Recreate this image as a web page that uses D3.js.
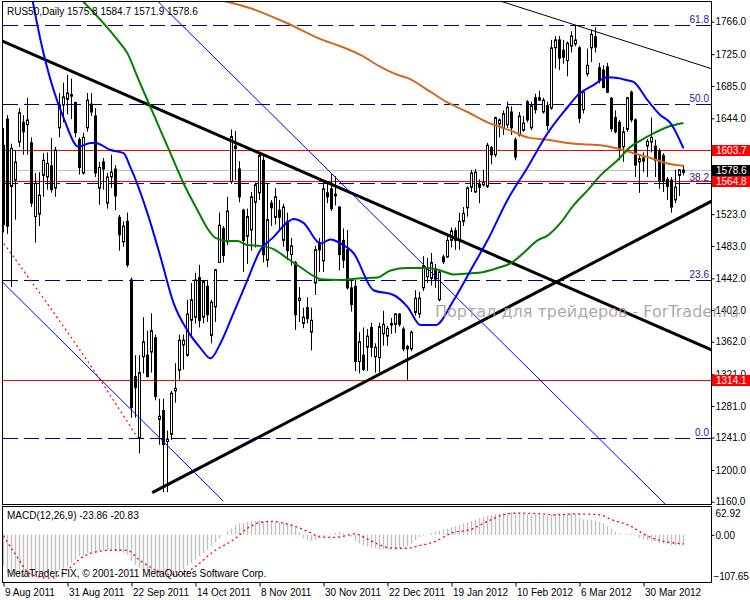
<!DOCTYPE html>
<html>
<head>
<meta charset="utf-8">
<script src="https://cdn.jsdelivr.net/npm/d3@7"></script>
<style>
  body { margin: 0; background: #fff; }
  svg { display: block; }
  text { font-family: "Liberation Sans", Arial, sans-serif; font-size: 10px; }
</style>
</head>
<body>
<svg id="chart" width="750" height="600"></svg>
<script>
// ---- data ----
const title = 'RUS50,Daily  1575.8 1584.7 1571.9 1578.6'
const macdTitle = 'MACD(12,26,9) -23.86 -20.83'
const copyright = 'MetaTrader FIX, \u00a9 2001-2011 MetaQuotes Software Corp.'
const watermark = 'Портал для трейдеров - ForTrader.ru'

const dateLabels = ['9 Aug 2011', '31 Aug 2011', '22 Sep 2011', '14 Oct 2011', '8 Nov 2011', '30 Nov 2011',
    '22 Dec 2011', '19 Jan 2012', '10 Feb 2012', '6 Mar 2012', '30 Mar 2012']
const dateBars = [0, 16, 32, 48, 64, 80, 96, 112, 128, 144, 160]

const priceTicks = [1766.0, 1725.0, 1685.0, 1644.0, 1523.0, 1483.0, 1442.0, 1402.0, 1362.0, 1321.0,
    1281.0, 1241.0, 1200.0, 1160.0]
const macdTicks = [62.92, 0.00, -107.65]

// open, high, low, close per daily bar
const ohlc = [
    [1610,1632,1500,1510],[1643,1648,1498,1508],[1558,1612,1431,1606],[1566,1604,1516,1589],[1614,1657,1608,1651],
    [1639,1648,1598,1627],[1636,1670,1598,1642],[1613,1620,1532,1537],[1520,1575,1487,1562],[1523,1576,1508,1547],
    [1572,1600,1545,1591],[1570,1601,1554,1587],[1584,1619,1550,1554],[1556,1608,1545,1604],[1632,1676,1620,1661],
    [1661,1689,1639,1671],[1668,1699,1649,1676],[1672,1694,1643,1674],[1664,1665,1620,1626],[1617,1620,1573,1582],
    [1575,1626,1573,1620],[1632,1676,1627,1667],[1662,1676,1647,1652],[1647,1657,1570,1575],[1556,1589,1535,1582],
    [1589,1594,1554,1580],[1537,1575,1530,1570],[1570,1598,1556,1576],[1580,1585,1528,1546],[1519,1522,1477,1497],
    [1488,1514,1482,1508],[1514,1525,1456,1459],[1440,1443,1266,1279],[1318,1345,1266,1304],[1241,1345,1221,1323],
    [1343,1393,1322,1362],[1345,1376,1317,1318],[1349,1398,1323,1376],[1367,1371,1288,1293],[1264,1290,1232,1268],
    [1275,1290,1172,1232],[1236,1250,1172,1239],[1245,1300,1238,1297],[1300,1335,1285,1303],[1326,1371,1314,1364],
    [1358,1371,1327,1364],[1345,1415,1343,1397],[1389,1436,1367,1415],[1393,1449,1385,1440],[1443,1459,1380,1389],
    [1393,1440,1385,1438],[1432,1440,1387,1396],[1370,1415,1360,1412],[1406,1453,1387,1453],[1462,1525,1462,1509],
    [1505,1508,1462,1471],[1488,1545,1484,1527],[1564,1630,1561,1621],[1609,1628,1566,1606],[1580,1590,1538,1545],
    [1528,1530,1450,1490],[1495,1530,1460,1520],[1503,1551,1477,1545],[1538,1563,1481,1560],[1550,1600,1541,1597],
    [1591,1596,1462,1472],[1465,1562,1456,1516],[1537,1541,1508,1531],[1519,1556,1510,1545],[1528,1541,1503,1519],
    [1490,1536,1482,1532],[1514,1525,1465,1477],[1472,1493,1458,1483],[1462,1464,1377,1396],[1414,1431,1387,1417],
    [1385,1405,1379,1393],[1405,1418,1385,1391],[1374,1405,1351,1389],[1436,1483,1421,1478],[1487,1493,1450,1478],
    [1464,1565,1450,1555],[1550,1562,1537,1545],[1555,1574,1527,1530],[1546,1571,1534,1548],[1532,1533,1452,1472],
    [1490,1505,1455,1465],[1478,1503,1428,1430],[1430,1440,1400,1409],[1432,1440,1325,1337],[1337,1374,1322,1362],
    [1345,1380,1325,1327],[1355,1378,1325,1369],[1380,1386,1343,1355],[1343,1360,1323,1355],[1342,1386,1323,1381],
    [1372,1401,1357,1384],[1369,1382,1357,1379],[1383,1392,1372,1385],[1384,1398,1373,1397],[1397,1398,1381,1384],
    [1378,1381,1350,1353],[1356,1358,1314,1353],[1353,1376,1350,1374],[1399,1427,1395,1417],[1397,1425,1392,1417],
    [1430,1470,1426,1458],[1444,1468,1436,1454],[1442,1474,1433,1462],[1454,1460,1430,1441],[1415,1453,1413,1450],
    [1469,1472,1460,1463],[1469,1496,1468,1490],[1490,1506,1481,1502],[1502,1506,1478,1490],[1490,1525,1478,1514],
    [1514,1532,1508,1524],[1531,1558,1520,1556],[1557,1579,1551,1575],[1551,1580,1550,1576],[1561,1567,1537,1557],
    [1560,1579,1558,1563],[1558,1613,1556,1610],[1607,1609,1586,1598],[1598,1646,1595,1645],[1637,1644,1620,1642],
    [1632,1654,1623,1650],[1636,1665,1632,1658],[1652,1659,1623,1632],[1617,1620,1591,1595],[1623,1652,1621,1647],
    [1629,1647,1627,1638],[1665,1667,1639,1642],[1632,1665,1629,1660],[1670,1675,1650,1655],[1670,1679,1666,1667],
    [1652,1670,1650,1667],[1660,1665,1629,1635],[1657,1743,1655,1733],[1733,1748,1707,1743],[1743,1748,1705,1720],
    [1730,1743,1713,1721],[1717,1741,1697,1739],[1735,1754,1727,1748],[1738,1762,1735,1743],[1733,1735,1638,1644],
    [1655,1680,1650,1677],[1700,1732,1697,1711],[1733,1756,1715,1750],[1747,1759,1727,1734],[1708,1714,1688,1692],
    [1705,1711,1682,1683],[1709,1714,1676,1677],[1669,1671,1627,1631],[1645,1654,1625,1627],[1639,1642,1591,1605],
    [1608,1633,1589,1627],[1630,1671,1627,1670],[1677,1679,1639,1642],[1642,1644,1570,1585],[1589,1598,1550,1593],
    [1594,1601,1576,1590],[1609,1618,1570,1615],[1614,1645,1601,1620],[1609,1617,1570,1591],[1603,1606,1555,1565],
    [1597,1600,1551,1565],[1567,1570,1541,1558],[1566,1570,1525,1532],[1541,1579,1537,1557],[1572,1580,1546,1579],
    [1575.8,1584.7,1571.9,1578.6]
]

// moving averages, [bar, price] read at points along each curve
const maBlue = [[7,1800],[9.25,1743],[12.5,1680],[15,1645],[18.75,1608],[21.75,1613],[23,1613],[26.75,1604],
    [30,1600],[31.75,1582],[36,1524],[39.25,1469],[42.5,1411],[46,1376],[49.25,1354],[51.75,1341],[54.25,1360],
    [57.5,1398],[61,1440],[64.25,1478],[67.5,1494],[71,1513],[72.5,1517],[75,1512],[79.25,1486],[81.75,1491],
    [84.25,1486],[87.5,1474],[92.5,1427],[97.5,1421],[101,1406],[104.25,1383],[108,1383],[112.5,1414],
    [116.75,1452],[121,1490],[126,1541],[131,1582],[136,1625],[141,1658],[143.5,1673],[147.5,1686],[151,1696],
    [153.5,1695],[156,1692],[157.5,1690],[161,1667],[164.25,1648],[166.75,1638],[170,1606]]
const maGreen = [[19.25,1795],[28.5,1743],[31,1726],[33.5,1696],[36.75,1658],[40,1620],[42.5,1591],[45,1562],
    [48.5,1528],[51,1505],[53,1493],[56,1489],[58.5,1489],[61,1484],[64.25,1483],[67.5,1479],[71,1467],
    [74.25,1456],[77.5,1445],[79.25,1441],[84.25,1440],[89.25,1442],[93.5,1443],[96.75,1452],[101,1455],
    [106,1455],[109.25,1452],[112.5,1447],[116,1448],[120,1450],[123.5,1455],[126.75,1461],[130,1474],
    [133.5,1490],[136,1496],[139.25,1512],[142.5,1534],[146,1553],[149.25,1572],[153.5,1591],[156.75,1608],
    [159.25,1616],[162.5,1625],[166,1633],[170,1638]]
const maOrange = [[50,1797],[54.25,1793],[61.75,1783],[70.5,1765],[79.75,1743],[84.25,1735],[89.25,1724],
    [94.25,1709],[98.5,1699],[101,1695],[106,1680],[111,1664],[116,1652],[121,1639],[124.25,1633],[127.5,1627],
    [131,1620],[136,1617],[141,1613],[146,1611],[149.25,1610],[153.5,1606],[157.5,1600],[161.75,1594],
    [166,1587],[170,1584]]

// drawn objects: [bar, price] end points
const thickTrends = [[[-0.875,1742.7],[177,1351.8]], [[37.18,1171.5],[177,1539.4]]]
const thinBlackTrends = [[[110,1815],[177,1706.7]]]
const thinBlueTrends = [[[38.25,1793.3],[166.25,1152.9]], [[-2,1446],[55,1160.6]]]
const redDotted = [[0.075,1486],[24.25,1313],[33.5,1241]]

const fibPrices = [1241, 1440, 1563, 1662, 1762]
const fibLabels = ['0.0', '23.6', '38.2', '50.0', '61.8']
const redLevels = [1603.7, 1564.8, 1314.1]
const bidPrice = 1578.6

// MACD main (histogram) per bar and signal line points
const macdHist = [
    -70,-88,-91,-93,-95,-96,-95,-94,-93,-92,
    -91,-90,-88,-85,-82,-78,-72,-65,-58,-50,
    -46,-42,-40,-38,-36,-36,-36,-37,-38,-40,
    -42,-46,-60,-70,-76,-82,-85,-88,-90,-92,
    -92,-91,-90,-88,-85,-80,-72,-65,-58,-50,
    -42,-35,-27,-18,-8,0,8,15,22,27,
    28,30,31,32,33,31,30,31,30,29,
    28,27,26,16,6,-8,-12,-14,-12,-6,
    -3,-1,2,5,7,4,0,-4,-15,-20,
    -24,-27,-30,-32,-33,-34,-33,-32,-31,-30,
    -28,-26,-22,-12,-5,-2,1,4,7,10,
    12,14,17,20,23,26,29,32,35,38,
    40,43,45,48,49,50,52,52,51,50,
    49,48,47,47,46,46,45,47,49,50,
    50,49,48,47,40,36,35,35,33,30,
    27,20,14,8,3,1,2,3,-2,-8,
    -10,-12,-13,-15,-18,-20,-22,-24,-25,-24,
    -23.86]
const macdSignal = [[0,-2],[3,-45],[7,-92],[12,-100],[16,-80],[20,-50],[24,-38],[28,-35],[31,-36],[34,-58],
    [38,-81],[41,-92],[44,-92],[48,-73],[52,-42],[58,-8],[61,15],[64,28],[67,31],[70,27],[73,19],[77,4],
    [79,-5],[83,-6],[88,2],[91,-10],[94,-23],[97,-31],[101,-31],[104,-25],[108,-15],[112,4],[117,13],
    [121,31],[125,46],[128,50],[135,48],[138,46],[143,48],[149,46],[152,35],[157,19],[160,2],[163,-10],
    [167,-18],[170,-20.83]]

// ---- layout ----
const svg = d3.select('#chart')
const frame = {left: 2.5, right: 711.5, top: 1.5, bottom: 504.5}
const sub = {top: 506.5, bottom: 582.5}

const x = d3.scaleLinear().domain([0, 170]).range([3.5, 683.5])
const y = d3.scaleLinear().domain([1156.5, 1791.5]).range([frame.bottom, frame.top])
const ym = d3.scaleLinear().domain([-107.65, 62.92]).range([581.5, 507.5])

const defs = svg.append('defs')
defs.append('clipPath').attr('id', 'clipMain').append('rect')
    .attr('x', 3).attr('y', 2).attr('width', 708).attr('height', 502)
defs.append('clipPath').attr('id', 'clipSub').append('rect')
    .attr('x', 3).attr('y', 507).attr('width', 708).attr('height', 75)

const gMain = svg.append('g').attr('clip-path', 'url(#clipMain)')
const gSub = svg.append('g').attr('clip-path', 'url(#clipSub)')

// horizontal levels
gMain.selectAll('line.fib').data(fibPrices).enter().append('line')
    .attr('x1', 3).attr('x2', 711)
    .attr('y1', d => Math.round(y(d)) + 0.5).attr('y2', d => Math.round(y(d)) + 0.5)
    .attr('stroke', '#000080').attr('stroke-dasharray', '15,6')

gMain.selectAll('line.red').data(redLevels).enter().append('line')
    .attr('x1', 3).attr('x2', 711)
    .attr('y1', d => Math.round(y(d)) + 0.5).attr('y2', d => Math.round(y(d)) + 0.5)
    .attr('stroke', '#ff0000')

gMain.append('line')
    .attr('x1', 3).attr('x2', 711)
    .attr('y1', Math.round(y(bidPrice)) + 0.5).attr('y2', Math.round(y(bidPrice)) + 0.5)
    .attr('stroke', '#c0c0c0')

gMain.selectAll('text.fib').data(fibPrices).enter().append('text')
    .attr('x', 709).attr('y', d => Math.round(y(d)) - 2)
    .attr('text-anchor', 'end')
    .attr('fill', '#1a1a9a')
    .text((d, i) => fibLabels[i])

// candles
const candle = gMain.selectAll('g.candle').data(ohlc).enter().append('g')
candle.append('line')
    .attr('x1', (d, i) => x(i)).attr('x2', (d, i) => x(i))
    .attr('y1', d => y(d[1])).attr('y2', d => y(d[2]))
    .attr('stroke', '#000')
candle.append('rect')
    .attr('x', (d, i) => x(i) - 1).attr('width', 2)
    .attr('y', d => y(Math.max(d[0], d[3])))
    .attr('height', d => Math.max(0.5, Math.abs(y(d[0]) - y(d[3]))))
    .attr('fill', d => d[3] >= d[0] ? '#fff' : '#000')
    .attr('stroke', '#000')

// trend lines
const seg = d3.line().x(d => x(d[0])).y(d => y(d[1]))
gMain.selectAll('path.thick').data(thickTrends).enter().append('path')
    .attr('d', seg).attr('stroke', '#000').attr('stroke-width', 3).attr('fill', 'none')
gMain.selectAll('path.thinb').data(thinBlackTrends).enter().append('path')
    .attr('d', seg).attr('stroke', '#000').attr('stroke-width', 1).attr('fill', 'none')
gMain.selectAll('path.blue').data(thinBlueTrends).enter().append('path')
    .attr('d', seg).attr('stroke', '#0000ff').attr('stroke-width', 1).attr('fill', 'none')
gMain.append('path').datum(redDotted)
    .attr('d', d3.line().x(d => x(d[0])).y(d => y(d[1])).curve(d3.curveMonotoneX))
    .attr('stroke', '#ff0000').attr('stroke-width', 1.2).attr('stroke-dasharray', '2,3').attr('fill', 'none')

// moving averages
const maLine = d3.line().x(d => x(d[0])).y(d => y(d[1])).curve(d3.curveMonotoneX)
const mas = [[maOrange, '#d2691e'], [maGreen, '#008000'], [maBlue, '#0000ff']]
mas.forEach(m => {
    gMain.append('path').datum(m[0])
        .attr('d', maLine).attr('stroke', m[1]).attr('stroke-width', 2).attr('fill', 'none')
})

// MACD panel
gSub.selectAll('line.hist').data(macdHist).enter().append('line')
    .attr('x1', (d, i) => x(i)).attr('x2', (d, i) => x(i))
    .attr('y1', ym(0)).attr('y2', d => ym(d))
    .attr('stroke', '#c0c0c0').attr('stroke-width', 1.4)
gSub.append('path').datum(macdSignal)
    .attr('d', d3.line().x(d => x(d[0])).y(d => ym(d[1])).curve(d3.curveMonotoneX))
    .attr('stroke', '#ff0000').attr('stroke-width', 1.3).attr('stroke-dasharray', '2,3').attr('fill', 'none')

// frames
svg.append('rect').attr('x', frame.left).attr('y', frame.top)
    .attr('width', frame.right - frame.left).attr('height', frame.bottom - frame.top)
    .attr('fill', 'none').attr('stroke', '#000')
svg.append('rect').attr('x', frame.left).attr('y', sub.top)
    .attr('width', frame.right - frame.left).attr('height', sub.bottom - sub.top)
    .attr('fill', 'none').attr('stroke', '#000')

// price axis
const priceAxis = svg.append('g').attr('transform', `translate(${frame.right},0)`)
    .call(d3.axisRight(y).tickValues(priceTicks).tickFormat(d3.format('.1f')).tickSize(3).tickPadding(1))
priceAxis.select('.domain').remove()
priceAxis.selectAll('text').style('font-family', '"Liberation Sans", Arial, sans-serif').style('font-size', '10px')

// price tags on the axis
const tags = [[redLevels[0], '#ff0000'], [bidPrice, '#000000'], [redLevels[1], '#ff0000'], [redLevels[2], '#ff0000']]
tags.forEach(t => {
    const cy = Math.round(y(t[0])) + 0.5
    svg.append('rect').attr('x', 712).attr('y', cy - 5.5).attr('width', 38).attr('height', 11).attr('fill', t[1])
    svg.append('text').attr('x', 716).attr('y', cy).attr('dy', '0.35em').attr('fill', '#fff')
        .text(d3.format('.1f')(t[0]))
})

// MACD axis
const macdAxis = svg.append('g').attr('transform', `translate(${frame.right},0)`)
    .call(d3.axisRight(ym).tickValues(macdTicks).tickFormat(d3.format('.2f')).tickSize(3).tickPadding(1))
macdAxis.select('.domain').remove()
macdAxis.selectAll('text').style('font-family', '"Liberation Sans", Arial, sans-serif').style('font-size', '10px')
const topTick = macdAxis.selectAll('.tick').filter(d => d === macdTicks[0])
topTick.select('text').attr('y', 6)
topTick.select('line').remove()
const lowTick = macdAxis.selectAll('.tick').filter(d => d === macdTicks[2])
lowTick.select('text').attr('y', -5).attr('x', 2).style('letter-spacing', '-0.2px')
lowTick.select('line').remove()

// date axis
const dateAxis = svg.append('g').attr('transform', `translate(0,${sub.bottom})`)
    .call(d3.axisBottom(x).tickValues(dateBars).tickFormat((d, i) => dateLabels[i]).tickSize(4).tickPadding(2))
dateAxis.select('.domain').remove()
dateAxis.selectAll('text')
    .style('font-family', '"Liberation Sans", Arial, sans-serif').style('font-size', '10px')
    .attr('text-anchor', 'start').attr('x', 1)

// watermark runs over the price scale, as in the terminal
svg.append('text')
    .attr('x', 435).attr('y', 317)
    .style('font-family', '"DejaVu Sans", sans-serif')
    .style('font-size', '16px')
    .attr('fill', '#a69c9c')
    .attr('fill-opacity', 0.9)
    .text(watermark)

// captions
svg.append('text').attr('x', 7).attr('y', 15).attr('fill', '#000').text(title)
svg.append('text').attr('x', 7).attr('y', 519).attr('fill', '#000').text(macdTitle)
svg.append('text').attr('x', 7).attr('y', 577).attr('fill', '#000').text(copyright)
</script>
</body>
</html>
